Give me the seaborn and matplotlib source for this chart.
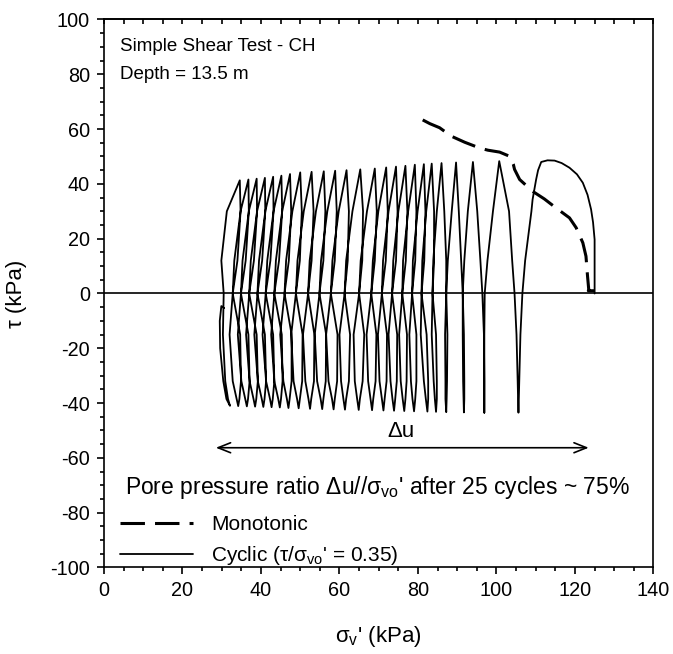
import matplotlib
matplotlib.use("Agg")
import matplotlib.pyplot as plt
from matplotlib.ticker import MultipleLocator
import pandas as pd
import seaborn as sns

# =============================================
# CYCLIC SIMPLE SHEAR - CH CLAY, DEPTH 13.5 m
# stress path tau vs sigma_v'
# =============================================

# 25 cycles, cycle 1 is the one on the right (test starts at sigma_v' = 125 kPa)
peak_sigma = [114.8, 100.7, 94.0, 89.7, 86.0, 83.5, 81.5, 79.2, 76.8, 74.4, 71.9, 69.0, 65.3,
              61.8, 58.9, 56.0, 52.9, 50.0, 47.4, 45.2, 43.1, 41.0, 38.9, 36.8, 34.6]
peak_tau = [48.5, 48.3, 48.0, 47.8, 47.6, 47.4, 47.2, 47.0, 46.6, 46.3, 46.0, 45.6, 45.3,
            45.0, 44.8, 44.6, 44.4, 44.2, 43.6, 43.0, 42.6, 42.2, 41.9, 41.6, 41.3]
trough_sigma = [105.6, 96.9, 91.7, 87.2, 84.6, 82.4, 79.0, 76.5, 73.9, 71.2, 68.3, 64.9, 61.4,
                58.5, 55.6, 52.5, 49.6, 47.0, 44.8, 42.7, 40.6, 38.5, 36.4, 34.2, 32.1]
trough_tau = [-43.5, -43.5, -43.4, -43.3, -43.2, -43.1, -43.0, -42.9, -42.8, -42.7, -42.6, -42.5, -42.4,
              -42.3, -42.2, -42.1, -41.9, -41.8, -41.6, -41.5, -41.4, -41.3, -41.2, -41.1, -41.0]

# sigma of the unloading branch (peak -> trough) at tau = +30, +12, 0, -15, -32, -38.5
down_levels = [30, 12, 0, -15, -32, -38.5]
down_30 = [108.9, 99.1, 92.7, 88.6, 84.8, 82.1, 79.9, 77.5, 75.0, 72.5, 69.9, 67.0, 63.3,
           59.8, 56.9, 54.0, 50.9, 48.0, 45.4, 43.2, 41.1, 39.0, 36.9, 34.8, 31.3]
down_12 = [107.3, 97.7, 91.8, 87.6, 83.9, 81.1, 78.7, 76.2, 73.7, 71.1, 68.5, 65.4, 61.7,
           58.2, 55.3, 52.4, 49.3, 46.4, 43.8, 41.6, 39.5, 37.4, 35.3, 33.2, 29.9]
down_0 = [106.6, 97.0, 91.4, 87.2, 83.7, 80.9, 78.5, 76.0, 73.4, 70.8, 68.1, 65.0, 61.3,
          57.8, 54.9, 52.0, 48.9, 46.0, 43.4, 41.2, 39.1, 37.0, 34.9, 32.8, 30.5]
down_m15 = [106.1, 96.9, 91.4, 86.9, 83.5, 80.7, 77.8, 75.2, 72.5, 69.8, 66.9, 63.6, 60.0,
            56.6, 53.7, 50.7, 47.7, 44.9, 42.6, 40.4, 38.3, 36.2, 34.1, 32.0, 30.3]
down_m32 = [105.8, 96.9, 91.5, 87.0, 84.0, 81.5, 78.2, 75.6, 73.0, 70.2, 67.3, 63.9, 60.4,
            57.2, 54.3, 51.3, 48.3, 45.7, 43.4, 41.3, 39.2, 37.1, 35.0, 32.8, 30.9]
down_m38 = [105.7, 96.9, 91.6, 87.0, 84.3, 82.0, 78.6, 76.1, 73.5, 70.8, 67.9, 64.5, 61.0,
            58.1, 55.2, 52.1, 49.2, 46.6, 44.4, 42.3, 40.2, 38.1, 36.0, 33.8, 31.6]

# sigma of the reloading branch (trough -> next peak) at tau = -38.5, -32, -15, 0, +12, +30
up_levels = [-38.5, -32, -15, 0, 12, 30]
up_m38 = [105.5, 96.9, 91.8, 87.3, 84.8, 82.6, 79.3, 76.8, 74.2, 71.5, 68.6, 65.2,
          61.7, 58.8, 55.9, 52.8, 49.9, 47.3, 45.1, 43.0, 40.9, 38.8, 36.7, 34.5]
up_m32 = [105.4, 96.9, 91.8, 87.4, 84.8, 82.6, 79.6, 77.1, 74.6, 72.0, 69.2, 65.9,
          62.4, 59.4, 56.5, 53.5, 50.5, 47.8, 45.5, 43.4, 41.3, 39.2, 37.1, 34.9]
up_m15 = [105.1, 96.8, 91.7, 87.5, 84.6, 82.2, 79.6, 77.2, 74.7, 72.1, 69.4, 66.3,
          62.7, 59.5, 56.6, 53.6, 50.6, 47.8, 45.3, 43.1, 41.0, 38.9, 36.8, 34.7]
up_0 = [104.6, 96.4, 91.4, 87.2, 83.7, 80.9, 78.5, 76.0, 73.4, 70.8, 68.1, 65.0,
        61.3, 57.8, 54.9, 52.0, 48.9, 46.0, 43.4, 41.2, 39.1, 37.0, 34.9, 32.8]
up_12 = [104.0, 95.9, 91.0, 87.2, 84.1, 81.6, 79.3, 76.9, 74.4, 71.8, 69.0, 65.8,
         62.1, 58.8, 55.9, 52.9, 49.9, 47.1, 44.6, 42.4, 40.3, 38.2, 36.1, 34.0]
up_30 = [103.2, 95.1, 90.4, 86.7, 84.1, 81.9, 79.6, 77.3, 74.8, 72.3, 69.5, 66.0,
         62.4, 59.3, 56.4, 53.4, 50.4, 47.7, 45.4, 43.2, 41.1, 39.0, 36.9, 34.8]

# first loading up to the first (rounded) peak
first_sigma = [125.0, 125.0, 125.0, 124.6, 124.1, 123.2, 122.0, 120.5, 118.6, 116.6, 114.8,
               113.0, 111.4, 110.6, 110.1, 109.2]
first_tau = [0.0, 10.0, 19.7, 26.0, 30.7, 36.0, 40.4, 43.5, 45.9, 47.6, 48.5,
             48.6, 48.0, 45.0, 41.6, 34.3]
# end of the test after the last trough
last_sigma = [31.2, 30.4, 29.6, 29.5, 29.9, 30.6]
last_tau = [-38.5, -32.0, -20.0, -10.0, -4.6, -5.3]

# monotonic test
mono_sigma = [124.9, 123.4, 123.5, 123.2, 122.8, 122.0, 120.3, 118.6, 115.1, 112.2, 109.2, 105.9,
              104.6, 104.3, 103.3, 100.8, 97.8, 95.7, 91.9, 88.5, 85.5, 83.0, 81.0, 79.3]
mono_tau = [1.0, 1.0, 1.5, 6.3, 13.6, 18.5, 24.0, 27.6, 31.3, 34.5, 37.3, 41.6,
            45.3, 47.1, 50.1, 51.6, 52.3, 53.1, 55.2, 57.4, 60.5, 62.0, 63.5, 64.7]

# build the cyclic path in test order
path_s = list(first_sigma)
path_t = list(first_tau)
n = len(peak_sigma)
for k in range(n):
    if k > 0:
        path_s.append(peak_sigma[k])
        path_t.append(peak_tau[k])
    path_s += [down_30[k], down_12[k], down_0[k], down_m15[k], down_m32[k], down_m38[k],
               trough_sigma[k]]
    path_t += down_levels + [trough_tau[k]]
    if k < n - 1:
        path_s += [up_m38[k], up_m32[k], up_m15[k], up_0[k], up_12[k], up_30[k]]
        path_t += up_levels
path_s += last_sigma
path_t += last_tau

cyclic = pd.DataFrame({"sigma": path_s, "tau": path_t})
mono = pd.DataFrame({"sigma": mono_sigma, "tau": mono_tau})

# =============================================
# PLOT
# =============================================

sns.set_theme(style="ticks", rc={"axes.edgecolor": "black", "axes.linewidth": 1.2,
                                 "xtick.color": "black", "ytick.color": "black",
                                 "text.color": "black", "axes.labelcolor": "black"})
plt.rcParams["font.family"] = ["Liberation Sans", "DejaVu Sans"]
plt.rcParams["mathtext.fontset"] = "custom"
plt.rcParams["mathtext.rm"] = "Liberation Sans"
plt.rcParams["mathtext.default"] = "regular"
plt.rcParams["axes.unicode_minus"] = False

fig = plt.figure(figsize=(6.73, 6.54), dpi=100)
ax = fig.add_axes([0.1545, 0.1323, 0.8165, 0.8379])

ax.axhline(0, color="black", lw=1.2, zorder=1)
sns.lineplot(data=mono, x="sigma", y="tau", sort=False, estimator=None, color="black",
             lw=2.2, linestyle=(0, (8, 3.3)), ax=ax, label="Monotonic")
sns.lineplot(data=cyclic, x="sigma", y="tau", sort=False, estimator=None, color="black",
             lw=1.3, solid_joinstyle="round", ax=ax, label="Cyclic (τ/σ$_{vo}$' = 0.35)")

ax.annotate("", xy=(123.5, -56.3), xytext=(28.5, -56.3),
            arrowprops=dict(arrowstyle="<->,head_length=0.45,head_width=0.18",
                            mutation_scale=20, lw=1.2, color="black", shrinkA=0, shrinkB=0))
ax.text(75.6, -50.5, "Δu", fontsize=16, ha="center", va="center")
ax.text(5.3, -70.8, "Pore pressure ratio Δu//σ$_{vo}$' after 25 cycles ~ 75%",
        fontsize=16.5, va="center")
ax.text(4.1, 90.1, "Simple Shear Test - CH", fontsize=13.5, va="center")
ax.text(4.1, 80.1, "Depth = 13.5 m", fontsize=13.5, va="center")

ax.legend(loc="lower left", bbox_to_anchor=(0.029, 0.0), frameon=False, fontsize=15,
          handlelength=3.5, handletextpad=0.87, labelspacing=0.5, borderaxespad=0,
          borderpad=0)

ax.set_xlim(0, 140)
ax.set_ylim(-100, 100)
ax.xaxis.set_major_locator(MultipleLocator(20))
ax.xaxis.set_minor_locator(MultipleLocator(5))
ax.yaxis.set_major_locator(MultipleLocator(20))
ax.yaxis.set_minor_locator(MultipleLocator(5))
ax.tick_params(which="major", direction="out", length=5, width=1.2, labelsize=14.3, pad=5,
               top=False, right=False)
ax.tick_params(which="minor", direction="out", length=3.2, width=1.2, top=False, right=False)

top = ax.secondary_xaxis("top")
top.xaxis.set_major_locator(MultipleLocator(5))
top.tick_params(direction="in", length=3.5, width=1.2, labeltop=False)

ax.set_xlabel("σ$_v$' (kPa)", fontsize=16)
ax.set_ylabel("τ (kPa)", fontsize=16)
ax.xaxis.set_label_coords(0.5, -0.103)
ax.yaxis.set_label_coords(-0.14, 0.5)

fig.savefig("out.png", dpi=100)
